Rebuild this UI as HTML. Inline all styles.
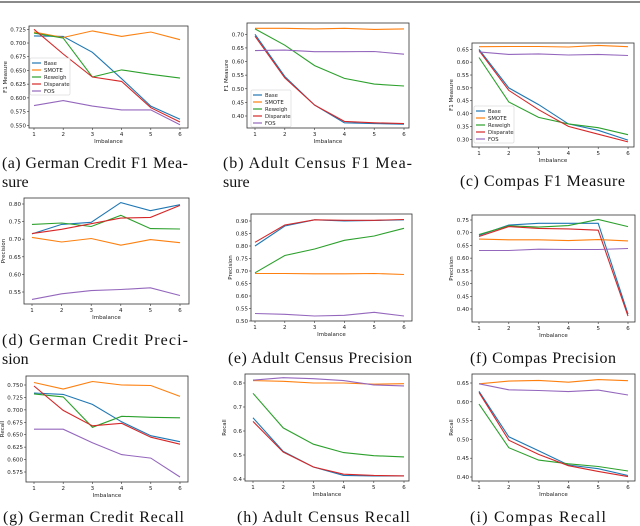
<!DOCTYPE html>
<html><head><meta charset="utf-8"><style>
html,body{margin:0;padding:0;background:#fff;}
body{width:640px;height:526px;overflow:hidden;position:relative;}
svg{position:absolute;left:0;top:0;}
</style></head><body>
<svg id="fig" width="640" height="526" viewBox="0 0 640 526" font-family="'DejaVu Sans','Liberation Sans',sans-serif">
<line x1="0" y1="2" x2="640" y2="2" stroke="#444" stroke-width="1.2"/>
<g font-family="'Liberation Serif',serif" font-size="16" fill="#111">
<text x="2" y="168" textLength="186" lengthAdjust="spacing">(a) German Credit F1 Mea-</text>
<text x="2" y="187">sure</text>
<text x="223" y="168" textLength="189" lengthAdjust="spacing">(b) Adult Census F1 Mea-</text>
<text x="223" y="187">sure</text>
<text x="460" y="186" textLength="165" lengthAdjust="spacing">(c) Compas F1 Measure</text>
<text x="2" y="345" textLength="186" lengthAdjust="spacing">(d) German Credit Preci-</text>
<text x="2" y="364">sion</text>
<text x="228" y="363" textLength="184" lengthAdjust="spacing">(e) Adult Census Precision</text>
<text x="470" y="363" textLength="146" lengthAdjust="spacing">(f) Compas Precision</text>
<text x="3" y="522" textLength="181" lengthAdjust="spacing">(g) German Credit Recall</text>
<text x="237" y="522" textLength="173" lengthAdjust="spacing">(h) Adult Census Recall</text>
<text x="470" y="522" textLength="136" lengthAdjust="spacing">(i) Compas Recall</text>
</g>
</svg>
<script>
const seriesNames = ["Base","SMOTE","Reweigh","Disparate","FOS"];
const seriesColors = ["#1f77b4","#ff7f0e","#2ca02c","#d62728","#9467bd"];
const xCategories = [1,2,3,4,5,6];

const aBase=[0.713,0.712,0.683,0.635,0.585,0.561];
const aSmote=[0.720,0.710,0.722,0.712,0.720,0.706];
const aReweigh=[0.718,0.709,0.638,0.651,0.643,0.636];
const aDisparate=[0.725,0.680,0.638,0.630,0.582,0.556];
const aFos=[0.586,0.595,0.585,0.578,0.578,0.551];
const aTicks=["0.550","0.575","0.600","0.625","0.650","0.675","0.700","0.725"];

const bBase=[0.700,0.545,0.440,0.375,0.372,0.370];
const bSmote=[0.722,0.722,0.720,0.722,0.718,0.720];
const bReweigh=[0.720,0.660,0.585,0.538,0.517,0.510];
const bDisparate=[0.693,0.540,0.440,0.380,0.375,0.372];
const bFos=[0.640,0.642,0.636,0.636,0.637,0.627];
const bTicks=["0.40","0.45","0.50","0.55","0.60","0.65","0.70"];

const cBase=[0.650,0.500,0.435,0.360,0.335,0.297];
const cSmote=[0.660,0.661,0.661,0.659,0.665,0.660];
const cReweigh=[0.618,0.445,0.385,0.360,0.345,0.318];
const cDisparate=[0.645,0.490,0.415,0.350,0.320,0.290];
const cFos=[0.640,0.630,0.632,0.628,0.630,0.626];
const cTicks=["0.30","0.35","0.40","0.45","0.50","0.55","0.60","0.65"];

const dBase=[0.715,0.742,0.748,0.804,0.781,0.798];
const dSmote=[0.705,0.692,0.702,0.683,0.699,0.690];
const dReweigh=[0.742,0.746,0.736,0.768,0.730,0.729];
const dDisparate=[0.716,0.728,0.744,0.760,0.762,0.796];
const dFos=[0.529,0.545,0.554,0.557,0.562,0.540];
const dTicks=["0.55","0.60","0.65","0.70","0.75","0.80"];

const eBase=[0.800,0.880,0.905,0.900,0.902,0.905];
const eSmote=[0.690,0.690,0.689,0.689,0.690,0.686];
const eReweigh=[0.693,0.762,0.788,0.823,0.840,0.871];
const eDisparate=[0.815,0.884,0.905,0.903,0.903,0.906];
const eFos=[0.530,0.527,0.520,0.523,0.535,0.520];
const eTicks=["0.50","0.55","0.60","0.65","0.70","0.75","0.80","0.85","0.90"];

const fBase=[0.690,0.730,0.737,0.737,0.737,0.380];
const fSmote=[0.675,0.672,0.672,0.669,0.673,0.668];
const fReweigh=[0.693,0.727,0.722,0.728,0.752,0.724];
const fDisparate=[0.685,0.724,0.717,0.715,0.710,0.372];
const fFos=[0.630,0.630,0.635,0.634,0.634,0.638];
const fTicks=["0.40","0.45","0.50","0.55","0.60","0.65","0.70","0.75"];

const gBase=[0.734,0.731,0.711,0.676,0.648,0.636];
const gSmote=[0.755,0.742,0.757,0.750,0.749,0.727];
const gReweigh=[0.732,0.726,0.665,0.687,0.685,0.684];
const gDisparate=[0.748,0.699,0.668,0.673,0.645,0.631];
const gFos=[0.661,0.661,0.634,0.610,0.603,0.565];
const gTicks=["0.575","0.600","0.625","0.650","0.675","0.700","0.725","0.750"];

const hBase=[0.655,0.515,0.450,0.415,0.413,0.413];
const hSmote=[0.810,0.807,0.800,0.800,0.795,0.797];
const hReweigh=[0.757,0.613,0.545,0.510,0.497,0.492];
const hDisparate=[0.640,0.512,0.450,0.420,0.415,0.413];
const hFos=[0.812,0.822,0.818,0.810,0.792,0.788];
const hTicks=["0.4","0.5","0.6","0.7","0.8"];

const iBase=[0.628,0.507,0.470,0.432,0.422,0.404];
const iSmote=[0.648,0.655,0.657,0.652,0.659,0.656];
const iReweigh=[0.594,0.478,0.445,0.435,0.428,0.416];
const iDisparate=[0.625,0.498,0.460,0.430,0.415,0.401];
const iFos=[0.648,0.632,0.630,0.627,0.631,0.618];
const iTicks=["0.40","0.45","0.50","0.55","0.60","0.65"];

const NS="http://www.w3.org/2000/svg";
const fig=document.getElementById("fig");
function mk(tag,attrs,parent){const e=document.createElementNS(NS,tag);for(const k in attrs)e.setAttribute(k,attrs[k]);(parent||fig).appendChild(e);return e;}

const charts=[
 {id:"a",s:[aBase,aSmote,aReweigh,aDisparate,aFos],t:aTicks,yl:"F1 Measure",box:[29,26,188,128],xa:[34,180],ya:[0.725,29.3,0.550,125.3],leg:[30,58]},
 {id:"b",s:[bBase,bSmote,bReweigh,bDisparate,bFos],t:bTicks,yl:"F1 Measure",box:[247,23,409,128],xa:[255,404],ya:[0.70,34.3,0.40,116],leg:[251,90]},
 {id:"c",s:[cBase,cSmote,cReweigh,cDisparate,cFos],t:cTicks,yl:"F1 Measure",box:[472,43,634,147],xa:[479,628],ya:[0.65,49.3,0.30,139.3],leg:[474,106]},
 {id:"d",s:[dBase,dSmote,dReweigh,dDisparate,dFos],t:dTicks,yl:"Precision",box:[24,198,189,304],xa:[32,180],ya:[0.80,204,0.55,292],leg:null},
 {id:"e",s:[eBase,eSmote,eReweigh,eDisparate,eFos],t:eTicks,yl:"Precision",box:[251,214,412,321],xa:[255,404],ya:[0.90,221,0.50,321],leg:null},
 {id:"f",s:[fBase,fSmote,fReweigh,fDisparate,fFos],t:fTicks,yl:"Precision",box:[472,215,635,322],xa:[479,628],ya:[0.75,220,0.40,309],leg:null},
 {id:"g",s:[gBase,gSmote,gReweigh,gDisparate,gFos],t:gTicks,yl:"Recall",box:[26,376,188,482],xa:[34,180],ya:[0.750,385,0.575,472],leg:null},
 {id:"h",s:[hBase,hSmote,hReweigh,hDisparate,hFos],t:hTicks,yl:"Recall",box:[245,374,409,481],xa:[253,404],ya:[0.8,383,0.4,479],leg:null},
 {id:"i",s:[iBase,iSmote,iReweigh,iDisparate,iFos],t:iTicks,yl:"Recall",box:[472,374,635,481],xa:[479,628],ya:[0.65,383,0.40,477],leg:null}
];

charts.forEach(c=>{
 const g=mk("g",{});
 
 
 const [x0,y0,x1,y1]=c.box;
 const X=v=>c.xa[0]+(v-1)*(c.xa[1]-c.xa[0])/5;
 const Y=v=>c.ya[1]+(v-c.ya[0])*(c.ya[3]-c.ya[1])/(c.ya[2]-c.ya[0]);
 c.s.forEach((arr,k)=>{
  const pts=arr.map((v,j)=>X(xCategories[j]).toFixed(1)+","+Y(v).toFixed(1)).join(" ");
  const pl=mk("polyline",{points:pts,fill:"none",stroke:seriesColors[k],"stroke-width":"1.1"},g);
  
  
 });
 const fr=mk("rect",{x:x0,y:y0,width:x1-x0,height:y1-y0,fill:"none",stroke:"#333","stroke-width":"0.8"},g);
 
 
 xCategories.forEach(v=>{
  const x=X(v);
  mk("line",{x1:x,y1:y1,x2:x,y2:y1+2,stroke:"#333","stroke-width":"0.6"},g);
  const t=mk("text",{x:x,y:y1+8,"font-size":"5.5","text-anchor":"middle",fill:"#222"},g);
  t.textContent=v;
  
  
 });
 c.t.forEach(s=>{
  const y=Y(parseFloat(s));
  mk("line",{x1:x0-2,y1:y,x2:x0,y2:y,stroke:"#333","stroke-width":"0.6"},g);
  const t=mk("text",{x:x0-3,y:y+2,"font-size":"5.5","text-anchor":"end",fill:"#222"},g);
  t.textContent=s;
  
  
 });
 const xl=mk("text",{x:(x0+x1)/2,y:y1+15,"font-size":"5.5","text-anchor":"middle",fill:"#222"},g);
 xl.textContent="Imbalance";
 
 
 const lx=x0-(c.t[0].length>4?22:19), ly=(y0+y1)/2;
 const yl=mk("text",{x:lx,y:ly,"font-size":"5.5","text-anchor":"middle",fill:"#222",transform:`rotate(-90 ${lx} ${ly})`},g);
 yl.textContent=c.yl;
 
 
 if(c.leg){
  const lg=mk("g",{},g);
  
  
  mk("rect",{x:c.leg[0],y:c.leg[1],width:40,height:37,fill:"#fff","fill-opacity":"0.85",stroke:"#ccc","stroke-width":"0.5",rx:1},lg);
  seriesNames.forEach((n,k)=>{
   const yy=c.leg[1]+5+k*7;
   mk("line",{x1:c.leg[0]+2,y1:yy,x2:c.leg[0]+11,y2:yy,stroke:seriesColors[k],"stroke-width":"1.2"},lg);
   const t=mk("text",{x:c.leg[0]+14,y:yy+2,"font-size":"5.3",fill:"#222"},lg);
   t.textContent=n;
   
   
  });
 }
});
</script>
</body></html>
